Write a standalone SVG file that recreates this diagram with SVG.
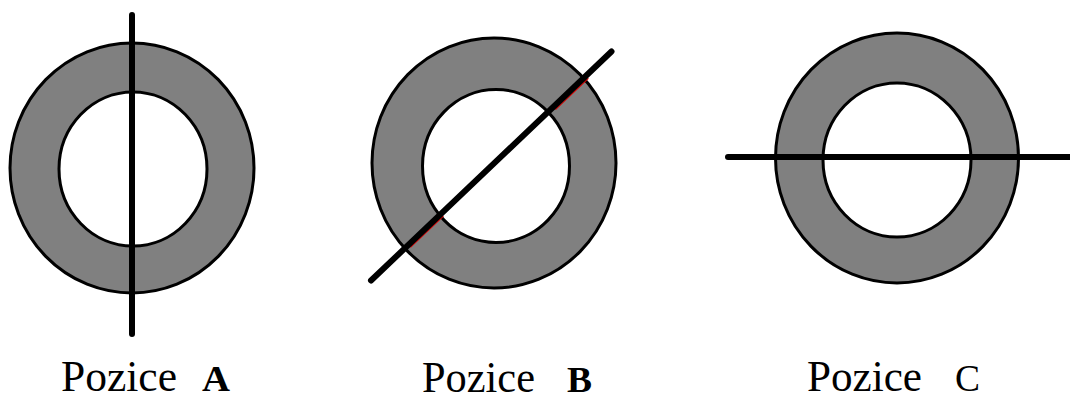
<svg xmlns="http://www.w3.org/2000/svg" width="1070" height="401" viewBox="0 0 1070 401">
<style>
.outer{fill:#808080;stroke:#000;stroke-width:3}
.inner{fill:#fff;stroke:#000;stroke-width:3}
.rod{stroke:#000;stroke-width:6;stroke-linecap:round;fill:none}
.red{stroke:#e00000;stroke-width:1.2}
.lbl{font-family:"Liberation Serif","Times New Roman",serif;font-size:44px;fill:#000}
.let{font-family:"Liberation Serif","Times New Roman",serif;fill:#000}
</style>
<rect width="1070" height="401" fill="#fff"/>
<g id="ringA">
<ellipse class="outer" cx="132" cy="168" rx="122" ry="125"/>
<ellipse class="inner" cx="133" cy="169" rx="74" ry="77"/>
</g>
<g id="ringB">
<ellipse class="outer" cx="494" cy="163" rx="122" ry="125"/>
<ellipse class="inner" cx="496" cy="166" rx="73.5" ry="76.5"/>
</g>
<g id="ringC">
<ellipse class="outer" cx="897" cy="158" rx="121.5" ry="125"/>
<ellipse class="inner" cx="897" cy="160" rx="74" ry="77"/>
</g>
<g id="connectors">
<line class="rod" x1="132" y1="15" x2="132" y2="334"/>
<line class="red" x1="410.4" y1="247.4" x2="443.4" y2="216"/>
<line class="red" x1="555.4" y1="109.6" x2="588.4" y2="78.2"/>
<line class="rod" x1="371" y1="280.5" x2="611.5" y2="51.5"/>
<line class="rod" x1="728" y1="157" x2="1072" y2="157"/>
</g>
<g id="labelA">
<text class="lbl" x="61" y="391" textLength="116" lengthAdjust="spacingAndGlyphs">Pozice</text>
<text class="let" x="202" y="391" font-size="35" font-weight="bold" textLength="28" lengthAdjust="spacingAndGlyphs">A</text>
</g>
<g id="labelB">
<text class="lbl" x="422" y="391.5" textLength="113" lengthAdjust="spacingAndGlyphs">Pozice</text>
<text class="let" x="567" y="391.5" font-size="35" font-weight="bold" textLength="25" lengthAdjust="spacingAndGlyphs">B</text>
</g>
<g id="labelC">
<text class="lbl" x="807" y="391" textLength="115" lengthAdjust="spacingAndGlyphs">Pozice</text>
<text class="let" x="955" y="391" font-size="37" textLength="25" lengthAdjust="spacingAndGlyphs">C</text>
</g>
</svg>
